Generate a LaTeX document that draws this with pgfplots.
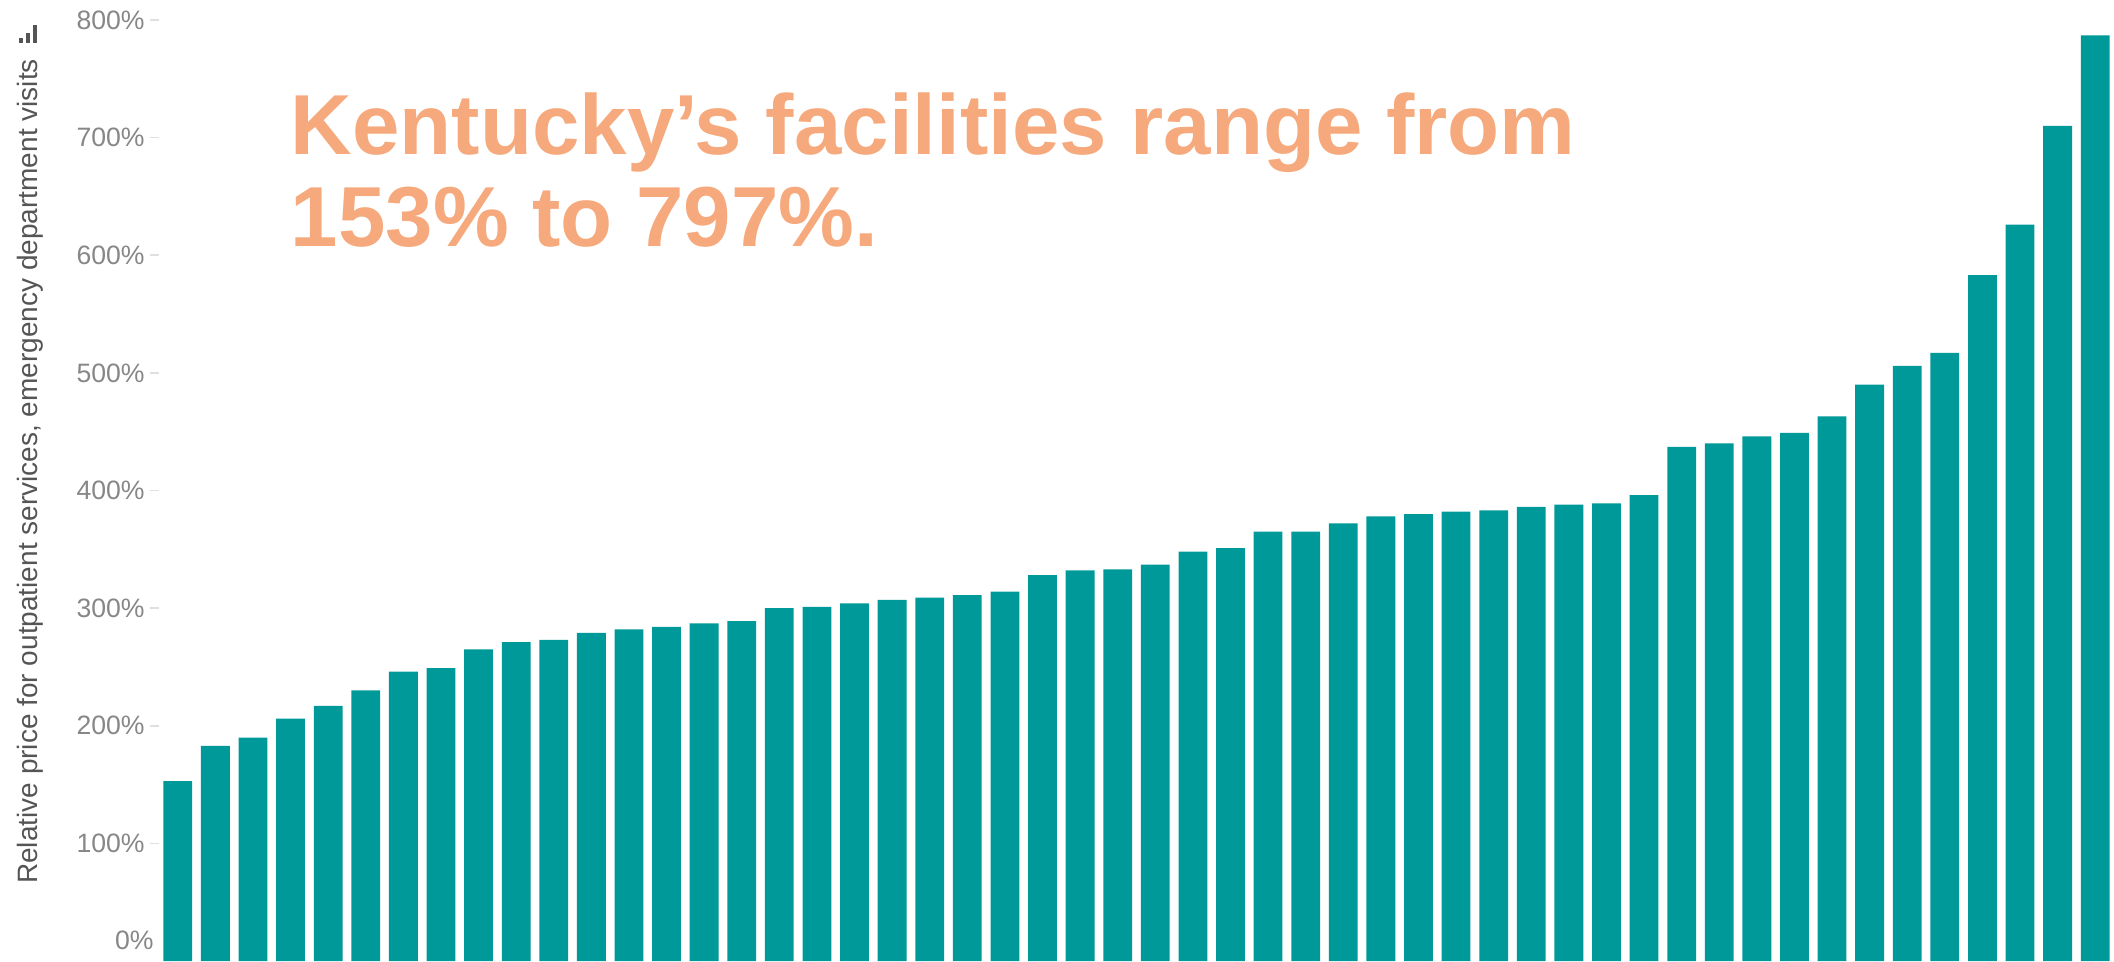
\documentclass[border=0pt]{standalone}
\usepackage{pgfplots}
\pgfplotsset{compat=1.18}
\usepackage{fontspec}
\setmainfont{Liberation Sans}
\definecolor{barteal}{RGB}{0,153,153}
\definecolor{titleorange}{RGB}{245,169,124}
\definecolor{ticklab}{RGB}{135,135,135}
\definecolor{labgray}{RGB}{85,85,85}
\begin{document}
\begin{tikzpicture}
\begin{axis}[
  name=ax,
  scale only axis,
  width=977.5pt, height=480.5pt,
  xmin=0.5, xmax=52.5,
  ymin=0, ymax=817,
  clip=false,
  axis line style={draw=none},
  xtick=\empty,
  ytick={100,200,300,400,500,600,700,800},
  yticklabels={100\%,200\%,300\%,400\%,500\%,600\%,700\%,800\%},
  extra y ticks={0},
  extra y tick labels={0\%},
  extra y tick style={major tick length=0pt, yticklabel style={yshift=10.5pt}},
  ytick pos=left,
  tick align=outside,
  major tick length=4.5pt,
  ytick style={draw=black!12, line width=0.8pt},
  yticklabel style={font=\fontsize{13.3}{15}\selectfont, text=ticklab, inner sep=0pt, xshift=-2.5pt},
  ylabel={Relative price for outpatient services, emergency department visits},
  ylabel style={at={(axis description cs:-0.0624,0.5094)}, anchor=base, rotate=0, font=\fontsize{14}{16}\selectfont, text=labgray},
  ybar, bar width=14.4pt, bar shift=0pt,
]
\addplot[fill=barteal, draw=none] coordinates {
(1,153) (2,183) (3,190) (4,206) (5,217) (6,230) (7,246) (8,249) (9,265) (10,271)
(11,273) (12,279) (13,282) (14,284) (15,287) (16,289) (17,300) (18,301) (19,304) (20,307)
(21,309) (22,311) (23,314) (24,328) (25,332) (26,333) (27,337) (28,348) (29,351) (30,365)
(31,365) (32,372) (33,378) (34,380) (35,382) (36,383) (37,386) (38,388) (39,389) (40,396)
(41,437) (42,440) (43,446) (44,449) (45,463) (46,490) (47,506) (48,517) (49,583) (50,626)
(51,710) (52,787)
};
\node[anchor=base west, inner sep=0pt, text=titleorange, font=\fontsize{42.6}{46}\selectfont\bfseries]
  at ([xshift=65.75pt,yshift=403.35pt]rel axis cs:0,0) {Kentucky’s facilities range from};
\node[anchor=base west, inner sep=0pt, text=titleorange, font=\fontsize{42.6}{46}\selectfont\bfseries]
  at ([xshift=65.75pt,yshift=357.15pt]rel axis cs:0,0) {153\% to 797\%.};
\node[anchor=south west, inner sep=0pt, text=labgray]
  at ([xshift=-70.35pt,yshift=459pt]rel axis cs:0,0)
  {\rule{2.2pt}{2.2pt}\hspace{1.3pt}\rule{2.2pt}{4.7pt}\hspace{1.3pt}\rule{2.2pt}{8.8pt}};
\end{axis}
\pgfresetboundingbox
\path[use as bounding box] ([xshift=-79.5pt]ax.south west) rectangle (ax.north east);
\end{tikzpicture}
\end{document}
